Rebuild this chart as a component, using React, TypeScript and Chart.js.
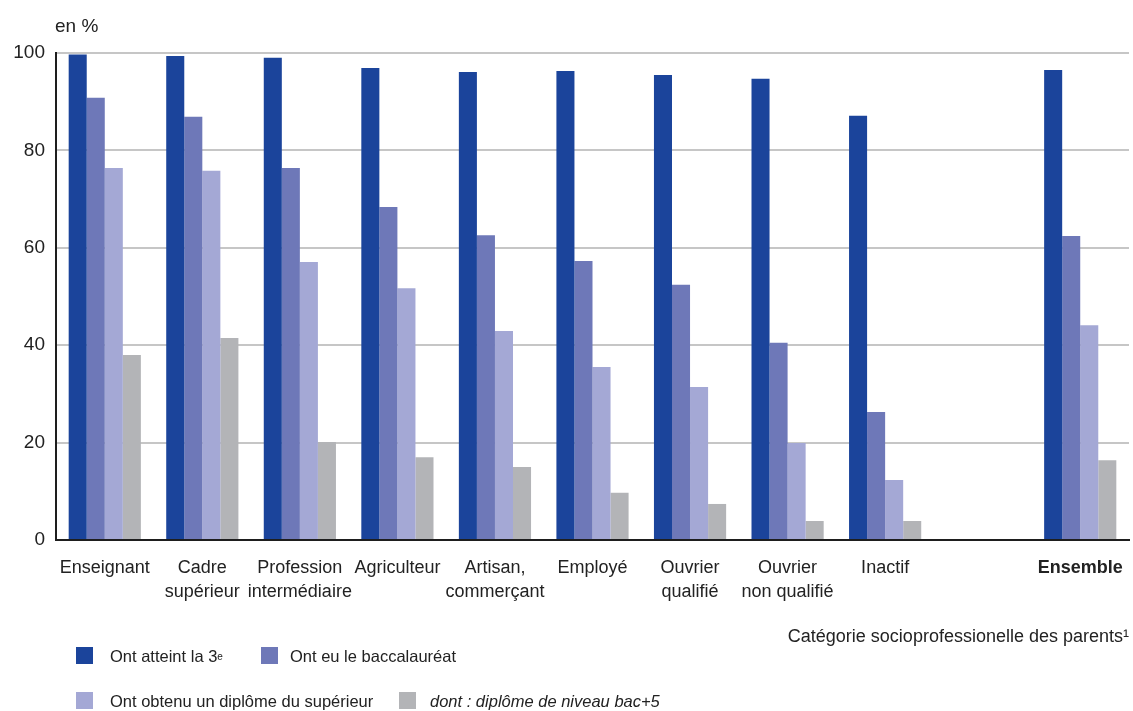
import React, { useEffect, useRef } from "react";
import { Chart, registerables } from "chart.js";

Chart.register(...registerables);

const categories: (string | string[])[] = [
  "Enseignant",
  ["Cadre", "supérieur"],
  ["Profession", "intermédiaire"],
  "Agriculteur",
  ["Artisan,", "commerçant"],
  "Employé",
  ["Ouvrier", "qualifié"],
  ["Ouvrier", "non qualifié"],
  "Inactif",
  "",
  "Ensemble",
];

const atteint3e = [99.7, 99.4, 99.0, 96.9, 96.1, 96.3, 95.5, 94.7, 87.1, null, 96.5];
const baccalaureat = [90.8, 86.9, 76.4, 68.4, 62.6, 57.3, 52.4, 40.5, 26.3, null, 62.4];
const superieur = [76.4, 75.8, 57.1, 51.7, 42.9, 35.5, 31.4, 19.9, 12.3, null, 44.1];
const bacPlus5 = [38.0, 41.5, 20.1, 17.0, 15.0, 9.7, 7.4, 3.9, 3.9, null, 16.4];

const seriesNames = [
  "Ont atteint la 3ᵉ",
  "Ont eu le baccalauréat",
  "Ont obtenu un diplôme du supérieur",
  "dont : diplôme de niveau bac+5",
];
const seriesColors = ["#1b449b", "#6e78b8", "#a4a8d5", "#b3b4b7"];

const yTicks = [0, 20, 40, 60, 80, 100];

const FONT = "'Liberation Sans', Arial, sans-serif";
const TEXT = "#222222";

const legendPos = [
  { left: 76, top: 647, textLeft: 110 },
  { left: 261, top: 647, textLeft: 290 },
  { left: 76, top: 692, textLeft: 110 },
  { left: 399, top: 692, textLeft: 430 },
];

function renderName(name: string) {
  if (name.includes("ᵉ")) {
    const parts = name.split("ᵉ");
    return (
      <>
        {parts[0]}
        <sup style={{ fontSize: 10, verticalAlign: "top", position: "relative", top: 1 }}>e</sup>
        {parts[1]}
      </>
    );
  }
  return name;
}

export default function App() {
  const ref = useRef<HTMLCanvasElement | null>(null);

  useEffect(() => {
    if (!ref.current) return;
    const unitPlugin = {
      id: "unitLabel",
      afterDraw(chart: any) {
        const { ctx, chartArea } = chart;
        ctx.save();
        ctx.font = `19px ${FONT}`;
        ctx.fillStyle = TEXT;
        ctx.textAlign = "left";
        ctx.textBaseline = "middle";
        ctx.fillText("en %", chartArea.left - 1, 27);
        ctx.restore();
      },
    };
    const data = [atteint3e, baccalaureat, superieur, bacPlus5];
    const chart = new Chart(ref.current, {
      type: "bar",
      data: {
        labels: categories,
        datasets: data.map((d, i) => ({
          label: seriesNames[i],
          data: d,
          backgroundColor: seriesColors[i],
          borderWidth: 0,
          categoryPercentage: 0.74,
          barPercentage: 1.0,
        })),
      },
      options: {
        responsive: false,
        animation: false,
        layout: { padding: { top: 53, right: 4, left: 0, bottom: 0 } },
        plugins: {
          legend: { display: false },
          tooltip: { enabled: false },
        },
        scales: {
          x: {
            grid: { display: false, drawTicks: false },
            border: { display: true, color: "#1e1e1e", width: 2 },
            ticks: {
              autoSkip: false,
              maxRotation: 0,
              minRotation: 0,
              padding: 16,
              color: TEXT,
              font: (ctx: any) => ({
                family: FONT,
                size: 18,
                lineHeight: 1.33,
                weight: ctx.index === 10 ? "bold" : "normal",
              }),
            },
            title: {
              display: true,
              text: "Catégorie socioprofessionelle des parents¹",
              align: "end",
              color: TEXT,
              font: { family: FONT, size: 18, lineHeight: 1.2 },
              padding: { top: 0, bottom: 63 },
            },
            afterFit: (scale: any) => {
              scale.height = 171;
              scale.paddingRight = 0;
            },
          },
          y: {
            min: 0,
            max: 100,
            afterBuildTicks: (scale: any) => {
              scale.ticks = yTicks.map((v) => ({ value: v }));
            },
            grid: { color: "#c6c6c6", lineWidth: 2, drawTicks: false },
            border: { display: true, color: "#1e1e1e", width: 2 },
            ticks: {
              padding: 11,
              color: TEXT,
              font: { family: FONT, size: 19 },
            },
            afterFit: (scale: any) => {
              scale.width = 56;
            },
          },
        },
      },
      plugins: [unitPlugin],
    });
    return () => chart.destroy();
  }, []);

  return (
    <div
      style={{
        position: "fixed",
        left: 0,
        top: 0,
        width: 1133,
        height: 711,
        background: "#fff",
        overflow: "hidden",
      }}
    >
      <canvas ref={ref} width={1133} height={711} style={{ display: "block" }} />
      {seriesNames.map((name, i) => (
        <React.Fragment key={i}>
          <div
            style={{
              position: "absolute",
              left: legendPos[i].left,
              top: legendPos[i].top,
              width: 17,
              height: 17,
              background: seriesColors[i],
            }}
          />
          <div
            style={{
              position: "absolute",
              left: legendPos[i].textLeft,
              top: legendPos[i].top + 8.5,
              transform: "translateY(-50%)",
              fontFamily: FONT,
              fontSize: 16.5,
              color: TEXT,
              whiteSpace: "nowrap",
              fontStyle: i === 3 ? "italic" : "normal",
              lineHeight: "22px",
            }}
          >
            {renderName(name)}
          </div>
        </React.Fragment>
      ))}
    </div>
  );
}
